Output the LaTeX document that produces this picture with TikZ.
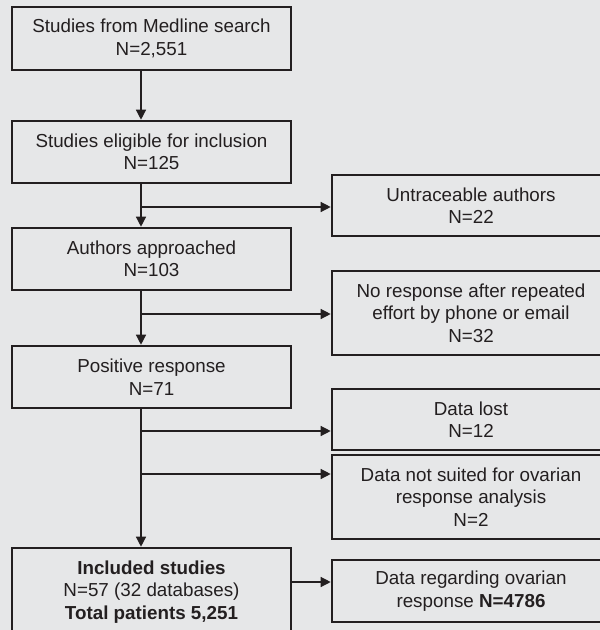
\documentclass[tikz,border=0pt]{standalone}
\usepackage{fontspec}
\setmainfont{Liberation Sans}
\usetikzlibrary{arrows.meta,positioning,calc}
\definecolor{pagebg}{HTML}{E6E7E8}
\definecolor{inkcol}{HTML}{231F20}

\tikzset{
  stage/.style={draw=inkcol, line width=2.6pt, fill=pagebg, text=inkcol, align=center,
    minimum width=279pt, inner sep=0pt},
  dropped/.style={stage, minimum width=278pt},
  flow/.style={-{Triangle[length=10pt,width=10pt]}, draw=inkcol, line width=1.3pt},
}

\begin{document}
\begin{tikzpicture}[x=1pt, y=-1pt, font=\fontsize{18.8}{22.5}\selectfont]
\clip (0,0) rectangle (600,630);
\fill[pagebg] (0,0) rectangle (600,630);

% main column
\node[stage, minimum height=63pt] (medline) at (151.5,38.5) {Studies from Medline search\\N=2,551};
\node[stage, minimum height=62pt] (eligible) at (151.5,152) {Studies eligible for inclusion\\N=125};
\node[stage, minimum height=62pt] (approached) at (151.5,259) {Authors approached\\N=103};
\node[stage, minimum height=62pt] (positive) at (151.5,377) {Positive response\\N=71};
\node[stage, minimum height=88pt] (included) at (151.5,592)
  {\textbf{Included studies}\\N=57 (32 databases)\\\textbf{Total patients 5,251}};

% boxes on the right
\node[dropped, minimum height=61pt] (untrace) at (471,205.5) {Untraceable authors\\N=22};
\node[dropped, minimum height=84pt] (noreply) at (471,313) {No response after repeated\\effort by phone or email\\N=32};
\node[dropped, minimum height=61pt] (lost) at (471,419.5) {Data lost\\N=12};
\node[dropped, minimum height=84pt] (unsuited) at (471,497) {Data not suited for ovarian\\response analysis\\N=2};
\node[dropped, minimum height=62pt] (ovarian) at (471,591) {Data regarding ovarian\\response \textbf{N=4786}};

% spine and branch points
\coordinate (spine) at (141,0);
\coordinate (b1) at (141,207);
\coordinate (b2) at (141,314);
\coordinate (b3) at (141,431);
\coordinate (b4) at (141,474);
\coordinate (b5) at (291,582);

\draw[flow] (medline.south -| spine) -- (eligible.north -| spine);
\draw[flow] (eligible.south -| spine) -- (approached.north -| spine);
\draw[flow] (approached.south -| spine) -- (positive.north -| spine);
\draw[flow] (positive.south -| spine) -- (included.north -| spine);
\foreach \b/\n in {b1/untrace, b2/noreply, b3/lost, b4/unsuited, b5/ovarian}{
  \draw[flow] (\b) -- (\b -| \n.west);
}
\end{tikzpicture}
\end{document}
